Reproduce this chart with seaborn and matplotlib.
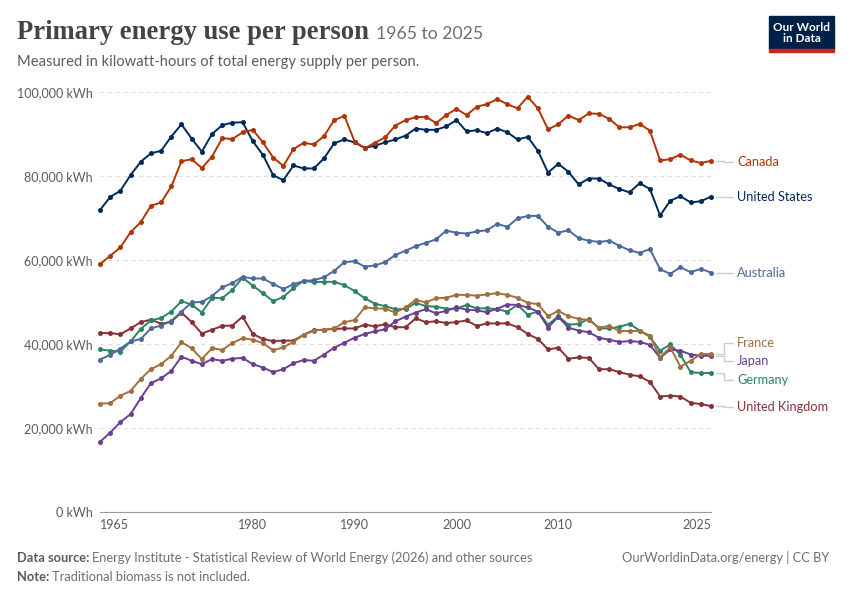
import numpy as np
import pandas as pd
import matplotlib
matplotlib.use("Agg")
import matplotlib.pyplot as plt
import seaborn as sns

# Primary energy use per person, kWh
years = list(range(1965, 2026))

canada = [59000, 61000, 63000, 66600, 69000, 72900, 73700, 77500, 83500, 84000,
          81900, 84600, 89000, 88800, 90400, 91000, 88000, 84400, 82400, 86400,
          87900, 87500, 89500, 93300, 94300, 88200, 86600, 87900, 89200, 92000,
          93300, 94000, 94100, 92600, 94500, 96000, 94500, 96500, 97100, 98300,
          97100, 96100, 98900, 96100, 91100, 92300, 94400, 93300, 94900, 94800,
          93600, 91600, 91600, 92400, 90800, 83700, 84000, 85100, 83700, 83100,
          83600]
united_states = [71900, 75000, 76500, 80200, 83400, 85400, 86000, 89400, 92300, 88900,
                 85800, 90000, 92100, 92700, 92800, 88300, 85000, 80200, 79000, 82500,
                 81800, 81800, 84200, 87800, 88700, 88000, 86700, 87200, 88000, 88700,
                 89600, 91300, 91000, 91000, 91800, 93300, 90600, 90900, 90200, 91300,
                 90400, 88700, 89300, 86000, 80800, 82900, 81000, 78000, 79400, 79400,
                 78000, 76900, 76100, 78300, 76900, 70600, 74100, 75200, 73700, 74000,
                 75100]
australia = [36300, 37400, 38900, 40600, 41200, 43700, 44400, 45500, 47700, 49900,
             50000, 51400, 53500, 54500, 56000, 55600, 55600, 54300, 53100, 54200,
             55000, 55200, 55900, 57400, 59500, 59700, 58400, 58700, 59500, 61200,
             62200, 63300, 64100, 64900, 67000, 66500, 66300, 66800, 67100, 68600,
             67900, 69900, 70500, 70500, 67900, 66500, 67100, 65200, 64600, 64300,
             64600, 63400, 62300, 61700, 62600, 57800, 56700, 58300, 57100, 57900,
             57000]
france = [25800, 25900, 27700, 28800, 31700, 34000, 35200, 37200, 40400, 39000,
          36400, 39000, 38600, 40200, 41400, 41000, 40200, 38500, 39200, 40500,
          42200, 43200, 43400, 43700, 45200, 45700, 48700, 48500, 48400, 47500,
          48700, 50500, 49900, 50900, 51000, 51700, 51700, 51500, 51800, 52100,
          51700, 51000, 49800, 49500, 46600, 47900, 46600, 46000, 45700, 43900,
          44300, 43100, 43100, 43100, 42000, 36800, 39200, 34600, 36000, 37600,
          37600]
japan = [16700, 18900, 21400, 23300, 27100, 30700, 31800, 33600, 37000, 36000,
         35200, 36400, 36000, 36500, 36700, 35200, 34400, 33300, 34000, 35400,
         36200, 36000, 37500, 39100, 40300, 41500, 42400, 43000, 43500, 45400,
         46500, 47500, 48300, 47300, 47900, 48700, 48200, 48000, 47600, 48400,
         49400, 49300, 48700, 47700, 43900, 46500, 43900, 43200, 42800, 41500,
         41000, 40500, 40700, 40500, 39800, 36700, 38700, 38400, 37500, 37200,
         37200]
germany = [38700, 38400, 38200, 40600, 43600, 45600, 46200, 47700, 50200, 49400,
           47500, 51000, 50900, 52900, 55800, 53900, 52100, 50200, 51200, 53300,
           55100, 54700, 54800, 54800, 54000, 52600, 50900, 49600, 49000, 48300,
           48300, 49800, 49000, 48900, 48400, 48400, 49300, 48500, 48500, 48300,
           47700, 49300, 47000, 47700, 44600, 46600, 44600, 44800, 46000, 43700,
           43700, 44100, 44800, 43200, 41700, 38400, 39900, 37400, 33300, 33100,
           33100]
united_kingdom = [42600, 42600, 42300, 43700, 45200, 45800, 44800, 45300, 47500, 45200,
                  42500, 43400, 44300, 44400, 46500, 42400, 41200, 40700, 40800, 40800,
                  42200, 43300, 43400, 43600, 43700, 43700, 44600, 44200, 44700, 44000,
                  44000, 46100, 45200, 45400, 45000, 45200, 45600, 44300, 44900, 44900,
                  44900, 44000, 42400, 41200, 38700, 39100, 36500, 36800, 36700, 34000,
                  34000, 33300, 32700, 32300, 31000, 27500, 27700, 27500, 26000, 25700,
                  25200]

countries = ["Canada", "United States", "Australia", "France", "Japan", "Germany", "United Kingdom"]
series = [canada, united_states, australia, france, japan, germany, united_kingdom]
colors = {"Canada": "#B13507", "United States": "#00295B", "Australia": "#4C6A9C",
          "France": "#A2703E", "Japan": "#6D3E91", "Germany": "#2C8465",
          "United Kingdom": "#883039"}
# label heights where labels had to be nudged apart
label_y = {"Canada": 83400, "United States": 75000, "Australia": 56900,
           "France": 40200, "Japan": 36000, "Germany": 31400, "United Kingdom": 25000}

x_ticks = [1965, 1980, 1990, 2000, 2010, 2025]
y_ticks = [0, 20000, 40000, 60000, 80000, 100000]

df = pd.DataFrame({
    "year": years * len(countries),
    "country": np.repeat(countries, len(years)),
    "value": np.concatenate(series),
})

sns.set_style("white")
plt.rcParams["font.family"] = ["Lato", "DejaVu Sans"]

W, H = 850, 600
fig = plt.figure(figsize=(W / 100, H / 100), dpi=100)
ax = fig.add_axes([100 / W, 1 - 512 / H, 611 / W, 420 / H])


def px(x, y):
    return x / W, 1 - y / H


sns.lineplot(data=df, x="year", y="value", hue="country", hue_order=countries[::-1],
             palette=colors, marker="o", markersize=3.6, markeredgewidth=0,
             linewidth=1.4, legend=False, ax=ax)
for ln in ax.lines:
    ln.set_clip_on(False)

ax.set_xlim(1965, 2025)
ax.set_ylim(0, 100000)
ax.set_xlabel("")
ax.set_ylabel("")

ax.set_yticks(y_ticks)
ax.set_yticklabels([f"{v:,} kWh" for v in y_ticks])
ax.set_xticks(x_ticks)
ax.set_xticklabels([str(t) for t in x_ticks])
xl = ax.get_xticklabels()
xl[0].set_ha("left")
xl[-1].set_ha("right")
ax.tick_params(axis="y", length=0, pad=5, labelsize=9, labelcolor="#5b5b5b")
ax.tick_params(axis="x", length=4, width=0.8, color="#999999", pad=1,
               labelsize=9, labelcolor="#5b5b5b")

for v in y_ticks[1:]:
    ax.axhline(v, color="#dddddd", lw=0.8, ls=(0, (3.5, 3.5)), zorder=0)
for s in ["top", "right", "left"]:
    ax.spines[s].set_visible(False)
ax.spines["bottom"].set_color("#999999")
ax.spines["bottom"].set_linewidth(0.8)

# line-end labels with connectors
for c, vals in zip(countries, series):
    end = vals[-1]
    ly = label_y[c]
    ax.plot([2025.5, 2026.3, 2026.3, 2027.2], [end, end, ly, ly],
            color="#cccccc", lw=1, clip_on=False, zorder=1)
    ax.text(2027.55, ly, c, color=colors[c], fontsize=9.2, va="center",
            ha="left", clip_on=False)

# header
title = fig.text(*px(17, 39), "Primary energy use per person", fontsize=19.2,
                 fontweight="bold", family="Liberation Serif", color="#444444",
                 va="baseline")
fig.canvas.draw()
bb = title.get_window_extent()
fig.text(*px(bb.x1 + 7, 39), "1965 to 2025", fontsize=12.7, color="#6e6e6e",
         va="baseline")
fig.text(*px(17, 66), "Measured in kilowatt-hours of total energy supply per person.",
         fontsize=10.6, color="#5b5b5b", va="baseline")

# logo
logo = plt.Rectangle(px(769, 49), 65 / W, 33 / H, transform=fig.transFigure,
                     color="#002147", zorder=5)
strip = plt.Rectangle(px(769, 52), 65 / W, 3 / H, transform=fig.transFigure,
                      color="#CE261E", zorder=5)
fig.patches.extend([logo, strip])
fig.text(*px(801.5, 33), "Our World\nin Data", color="white", fontsize=8.5,
         fontweight="bold", ha="center", va="center", linespacing=1.0, zorder=6)

# footer
src = fig.text(*px(17, 562), "Data source:", fontsize=9.25, fontweight="bold",
               color="#5b5b5b", va="baseline")
note = fig.text(*px(17, 581), "Note:", fontsize=9.25, fontweight="bold",
                color="#5b5b5b", va="baseline")
fig.canvas.draw()
b1 = src.get_window_extent()
b2 = note.get_window_extent()
fig.text(*px(b1.x1 + 3, 562),
         "Energy Institute - Statistical Review of World Energy (2026) and other sources",
         fontsize=9.25, color="#6e6e6e", va="baseline")
fig.text(*px(b2.x1 + 3, 581), "Traditional biomass is not included.",
         fontsize=9.25, color="#6e6e6e", va="baseline")
fig.text(*px(829, 562), "OurWorldinData.org/energy | CC BY", fontsize=9.25,
         color="#6e6e6e", ha="right", va="baseline")

fig.savefig("out.png", dpi=100)
